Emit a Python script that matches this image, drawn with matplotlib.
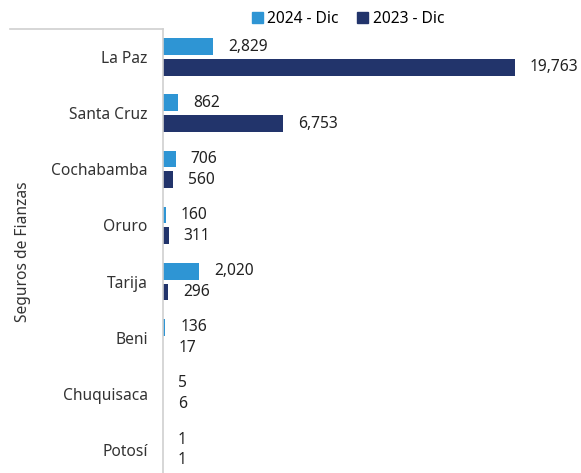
import numpy as np
import matplotlib
matplotlib.use("Agg")
import matplotlib.pyplot as plt
from matplotlib.lines import Line2D

plt.rcParams['font.family'] = ['Noto Sans', 'DejaVu Sans']

# datos
departamentos = ['La Paz', 'Santa Cruz', 'Cochabamba', 'Oruro', 'Tarija',
                 'Beni', 'Chuquisaca', 'Potosí']
dic_2024 = [2829, 862, 706, 160, 2020, 136, 5, 1]
dic_2023 = [19763, 6753, 560, 311, 296, 17, 6, 1]
series = ['2024 - Dic', '2023 - Dic']

c24 = '#2E95D4'
c23 = '#22346B'

W, H = 581, 473
fig = plt.figure(figsize=(W / 100, H / 100), dpi=100)
ax = fig.add_axes([163 / W, -5 / H, (W - 163) / W, 449 / H])

y = np.arange(len(departamentos))
h = 0.3
gap = 0.035
ax.barh(y - h / 2 - gap, dic_2024, height=h, color=c24)
ax.barh(y + h / 2 + gap, dic_2023, height=h, color=c23)

ax.set_ylim(len(departamentos) - 0.5, -0.5)
ax.set_xlim(0, 418 / 0.01781)

fs = 11.2
pad = 15 / 0.01781
for i in range(len(departamentos)):
    ax.text(dic_2024[i] + pad, y[i] - h / 2 - gap, f'{dic_2024[i]:,}',
            va='center', ha='left', fontsize=fs, color='#222222')
    ax.text(dic_2023[i] + pad, y[i] + h / 2 + gap, f'{dic_2023[i]:,}',
            va='center', ha='left', fontsize=fs, color='#222222')

ax.set_yticks(y)
ax.set_yticklabels(departamentos, fontsize=fs, color='#333333')
ax.tick_params(axis='y', length=0, pad=11)
ax.set_xticks([])
for s in ['top', 'right', 'bottom']:
    ax.spines[s].set_visible(False)
ax.spines['left'].set_color('#D0D0D0')
ax.spines['left'].set_linewidth(1.2)

# linea del grupo de categorias
fig.add_artist(Line2D([10 / W, 163 / W], [1 - 29 / H, 1 - 29 / H],
                      color='#D0D0D0', linewidth=1.2))
fig.text(23 / W, 1 - 252 / H, 'Seguros de Fianzas', rotation=90,
         ha='center', va='center', fontsize=fs, color='#333333')

handles = [plt.Rectangle((0, 0), 1, 1, color=c24),
           plt.Rectangle((0, 0), 1, 1, color=c23)]
fig.legend(handles, series, loc='center', bbox_to_anchor=(348 / W, 1 - 19 / H),
           ncol=2, frameon=False, fontsize=fs, handlelength=0.7,
           handleheight=0.7, handletextpad=0.3, columnspacing=1.2)

fig.savefig('out.png', dpi=100)
